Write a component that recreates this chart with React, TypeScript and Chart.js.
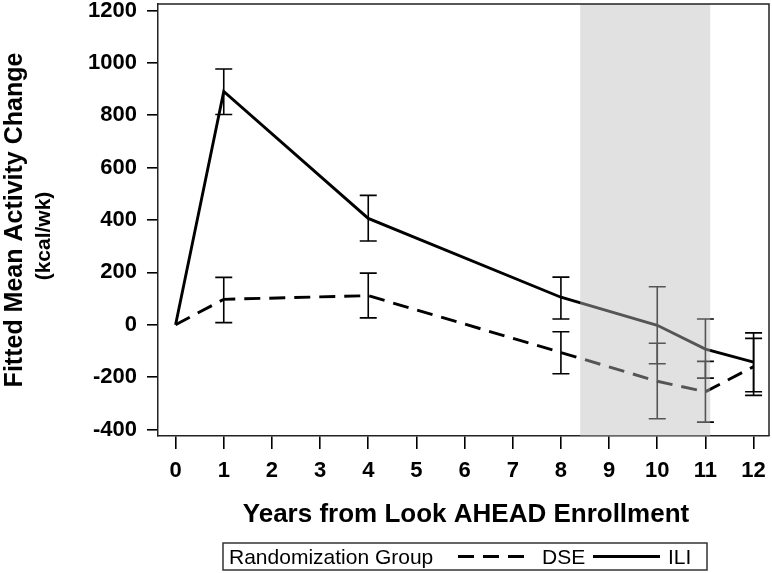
import React, { useEffect, useRef } from 'react';
import { Chart, registerables } from 'chart.js';

Chart.register(...registerables);

// ---- data ----
const years = [0, 1, 4, 8, 10, 11, 12];
const seriesNames = ['DSE', 'ILI'];
const dseMean = [0, 97, 111, -106, -216, -256, -160];
const dseLower = [null, 8, 26, -187, -359, -372, -270];
const dseUpper = [null, 181, 197, -27, -71, -140, -52];
const iliMean = [0, 891, 406, 105, -2, -93, -143];
const iliLower = [null, 803, 320, 22, -149, -204, -256];
const iliUpper = [null, 977, 494, 182, 145, 22, -31];
const xTicks = [0, 1, 2, 3, 4, 5, 6, 7, 8, 9, 10, 11, 12];
const yTicks = [-400, -200, 0, 200, 400, 600, 800, 1000, 1200];
const shadeRange = [8.4, 11.1];
const xTitle = 'Years from Look AHEAD Enrollment';
const yTitleLines = ['Fitted Mean Activity Change', '(kcal/wk)'];
const legendTitle = 'Randomization Group';

const FONT = '"Liberation Sans", Arial, sans-serif';

export default function App() {
  const ref = useRef<HTMLCanvasElement>(null);

  useEffect(() => {
    const canvas = ref.current;
    if (!canvas) return;

    const overlay = {
      id: 'overlay',
      afterDatasetsDraw(chart: any) {
        const { ctx, chartArea } = chart;
        const x = chart.scales.x;
        const y = chart.scales.y;
        ctx.save();
        // error bars
        const bars = [
          [dseLower, dseUpper],
          [iliLower, iliUpper],
        ];
        ctx.strokeStyle = '#000';
        ctx.lineWidth = 1.6;
        ctx.setLineDash([]);
        for (const [lo, hi] of bars) {
          for (let i = 0; i < years.length; i++) {
            const l = lo[i];
            const h = hi[i];
            if (l == null || h == null) continue;
            const px = x.getPixelForValue(years[i]);
            const pl = y.getPixelForValue(l);
            const ph = y.getPixelForValue(h);
            ctx.beginPath();
            ctx.moveTo(px, pl);
            ctx.lineTo(px, ph);
            ctx.moveTo(px - 8.5, pl);
            ctx.lineTo(px + 8.5, pl);
            ctx.moveTo(px - 8.5, ph);
            ctx.lineTo(px + 8.5, ph);
            ctx.stroke();
          }
        }
        // shaded band
        const x0 = x.getPixelForValue(shadeRange[0]);
        const x1 = x.getPixelForValue(shadeRange[1]);
        ctx.fillStyle = 'rgba(188,189,191,0.45)';
        ctx.fillRect(x0, chartArea.top, x1 - x0, chartArea.bottom - chartArea.top);
        // top & right frame
        ctx.strokeStyle = '#222';
        ctx.lineWidth = 1.5;
        ctx.beginPath();
        ctx.moveTo(chartArea.left, chartArea.top);
        ctx.lineTo(chartArea.right, chartArea.top);
        ctx.lineTo(chartArea.right, chartArea.bottom);
        ctx.stroke();
        ctx.restore();
      },
      afterDraw(chart: any) {
        const { ctx, chartArea } = chart;
        ctx.save();
        ctx.fillStyle = '#000';
        // x title
        ctx.font = `bold 26px ${FONT}`;
        ctx.textAlign = 'center';
        ctx.textBaseline = 'alphabetic';
        const cx = (chartArea.left + chartArea.right) / 2 + 2.5;
        ctx.fillText(xTitle, cx, chartArea.bottom + 86);
        // y title
        const cy = (chartArea.top + chartArea.bottom) / 2;
        ctx.save();
        ctx.translate(22, cy);
        ctx.rotate(-Math.PI / 2);
        ctx.font = `bold 25px ${FONT}`;
        ctx.fillText(yTitleLines[0], 0, 0);
        ctx.restore();
        ctx.save();
        ctx.translate(50, cy + 16);
        ctx.rotate(-Math.PI / 2);
        ctx.font = `bold 21px ${FONT}`;
        ctx.fillText(yTitleLines[1], 0, 0);
        ctx.restore();
        // legend
        const lx = 223, ly = 543, lw = 484, lh = 27;
        ctx.strokeStyle = '#333';
        ctx.lineWidth = 1.5;
        ctx.strokeRect(lx, ly, lw, lh);
        ctx.font = `21px ${FONT}`;
        ctx.textAlign = 'left';
        ctx.fillText(legendTitle, lx + 6, ly + 21);
        const midY = ly + lh / 2;
        ctx.strokeStyle = '#000';
        ctx.lineWidth = 2.8;
        ctx.setLineDash([16, 9]);
        ctx.beginPath();
        ctx.moveTo(458, midY);
        ctx.lineTo(525, midY);
        ctx.stroke();
        ctx.setLineDash([]);
        ctx.fillText(seriesNames[0], 542, ly + 21);
        ctx.beginPath();
        ctx.moveTo(593, midY);
        ctx.lineTo(660, midY);
        ctx.stroke();
        ctx.fillText(seriesNames[1], 668, ly + 21);
        ctx.restore();
      },
    };

    const chart = new Chart(canvas, {
      type: 'line',
      data: {
        datasets: [
          {
            label: seriesNames[0],
            data: years.map((t, i) => ({ x: t, y: dseMean[i] })),
            borderColor: '#000',
            borderWidth: 2.9,
            borderDash: [16, 9],
            pointRadius: 0,
            tension: 0,
            fill: false,
          },
          {
            label: seriesNames[1],
            data: years.map((t, i) => ({ x: t, y: iliMean[i] })),
            borderColor: '#000',
            borderWidth: 2.9,
            pointRadius: 0,
            tension: 0,
            fill: false,
          },
        ],
      },
      options: {
        animation: false,
        responsive: false,
        layout: { padding: { top: 4, right: 3, left: 0, bottom: 0 } },
        plugins: {
          legend: { display: false },
          tooltip: { enabled: false },
        },
        scales: {
          x: {
            type: 'linear',
            min: -0.365,
            max: 12.32,
            afterBuildTicks: (s: any) => {
              s.ticks = xTicks.map((v) => ({ value: v }));
            },
            afterFit: (s: any) => {
              s.height = 137;
              s.paddingLeft = 0;
              s.paddingRight = 0;
            },
            ticks: {
              autoSkip: false,
              maxRotation: 0,
              color: '#000',
              padding: 9,
              font: { family: FONT, size: 22, weight: 'bold' },
              callback: (v: any) => String(v),
            },
            grid: {
              drawOnChartArea: false,
              drawTicks: true,
              tickLength: 13,
              color: '#000',
              lineWidth: 1.6,
            },
            border: { display: true, color: '#222', width: 1.5 },
          },
          y: {
            type: 'linear',
            min: -425,
            max: 1225,
            afterBuildTicks: (s: any) => {
              s.ticks = yTicks.map((v) => ({ value: v }));
            },
            afterFit: (s: any) => {
              s.width = 158;
              s.paddingTop = 0;
              s.paddingBottom = 0;
            },
            ticks: {
              color: '#000',
              padding: 10,
              font: { family: FONT, size: 22, weight: 'bold' },
              callback: (v: any) => String(v),
            },
            grid: {
              drawOnChartArea: false,
              drawTicks: true,
              tickLength: 11,
              color: '#000',
              lineWidth: 1.6,
            },
            border: { display: true, color: '#222', width: 1.5 },
          },
        },
      },
      plugins: [overlay],
    });

    return () => chart.destroy();
  }, []);

  return (
    <div style={{ position: 'absolute', left: 0, top: 0, width: 772, height: 573, background: '#fff' }}>
      <canvas ref={ref} width={772} height={573} style={{ display: 'block' }} />
    </div>
  );
}
